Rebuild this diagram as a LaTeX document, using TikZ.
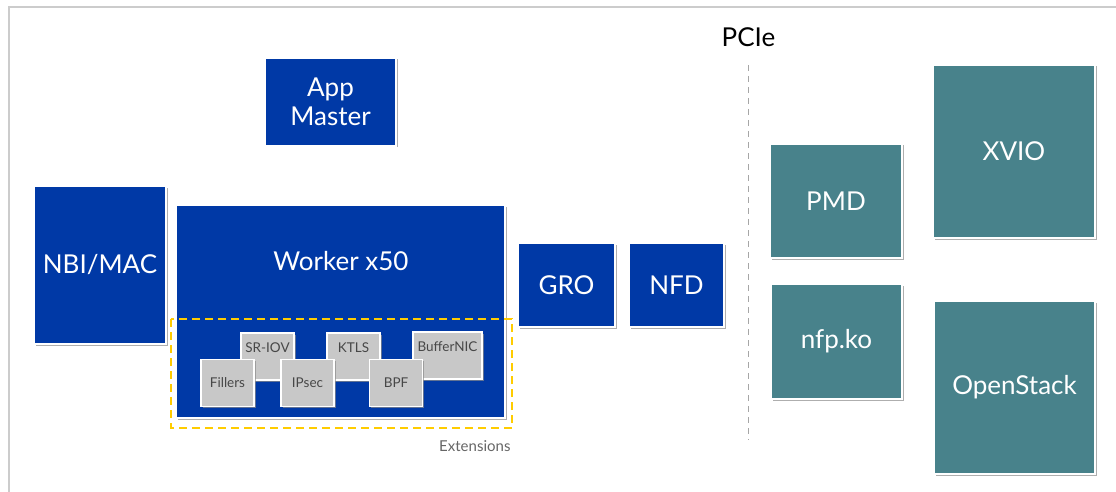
\documentclass[tikz,border=0pt]{standalone}
\usepackage{fontspec}
\setmainfont{Lato}
\definecolor{nfpblue}{RGB}{0, 57, 166}
\definecolor{hostteal}{RGB}{72, 130, 139}
\definecolor{extgray}{RGB}{200, 200, 200}
\definecolor{extline}{RGB}{255, 204, 0}
\usetikzlibrary{shadows, positioning}

\begin{document}
\begin{tikzpicture}[x=1pt, y=-1pt,
        every node/.style={font=\fontsize{26}{30}\selectfont},
        card/.style={draw=white, line width=1.6pt, inner sep=0pt, text=white, align=center,
            drop shadow={shadow xshift=1.5pt, shadow yshift=-1.5pt, fill=black!45, opacity=0.7}},
        fw/.style={card, fill=nfpblue},
        host/.style={card, fill=hostteal},
        ext/.style={card, fill=extgray, text=black!72, minimum width=53pt, minimum height=47pt,
            font=\fontsize{13.5}{15}\selectfont},
        extup/.style={ext, text depth=17pt},
        extbox/.style={draw=extline, line width=2.2pt, dash pattern=on 8pt off 5pt},
        pcieline/.style={draw=black!35, line width=1pt, dash pattern=on 6pt off 5pt}
    ]
    \useasboundingbox (0,0) rectangle (1116,492);

    % Frame
    \draw[black!20, line width=2pt] (9,492) -- (9,7) -- (1116,7);

    % Card side
    \node[fw, minimum width=131pt, minimum height=88pt] (appm) at (330.5,102) {App\\[-1pt]Master};
    \node[fw, minimum width=132pt, minimum height=158pt] (nbi) at (100,265) {NBI/MAC};
    \node[fw, minimum width=329pt, minimum height=213pt] (worker) at (340.5,311.5) {};
    \node[text=white] (workerlbl) at (341,261) {Worker x50};
    \node[fw, minimum width=97pt, minimum height=84pt] (gro) at (566.5,285) {GRO};
    \node[fw, minimum width=95pt, minimum height=84pt] (nfd) at (676.5,285) {NFD};

    % Extensions
    \node[extup] (sriov) at (267.5,356.5) {SR-IOV};
    \node[extup] (ktls) at (353.5,356.5) {KTLS};
    \node[extup, minimum width=69pt] (bufnic) at (447.5,355.5) {BufferNIC};
    \node[ext] (fillers) at (227.5,383) {Fillers};
    \node[ext] (ipsec) at (307.5,383) {IPsec};
    \node[ext] (bpf) at (396,383) {BPF};
    \draw[extbox] (171,319) rectangle (512,428);
    \node[anchor=east, text=black!60, font=\fontsize{15}{17}\selectfont] (extlbl) at (514,446) {Extensions};

    % PCIe
    \node (pcie) at (748.5,37) {PCIe};
    \coordinate (pcietop) at (748,65);
    \coordinate (pciebot) at (748,440);
    \draw[pcieline] (pcietop) -- (pciebot);

    % Host side
    \node[host, minimum width=132pt, minimum height=114pt] (pmd) at (836,201) {PMD};
    \node[host, minimum width=131pt, minimum height=115pt] (nfpko) at (836.5,341.5) {nfp.ko};
    \node[host, minimum width=162pt, minimum height=173pt] (xvio) at (1014,151.5) {XVIO};
    \node[host, minimum width=161pt, minimum height=173pt] (ostack) at (1014.5,387.5) {OpenStack};
\end{tikzpicture}
\end{document}
